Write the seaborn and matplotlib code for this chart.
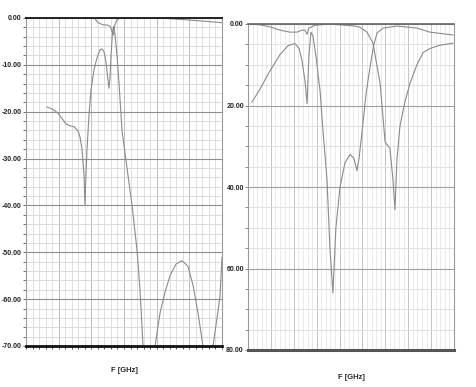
import matplotlib
matplotlib.use("Agg")
import matplotlib.pyplot as plt
from matplotlib.ticker import MultipleLocator, NullFormatter, FixedLocator
import seaborn as sns

# Left plot (dB, x in grid units)
left_top_x = [0, 10.5, 11.0, 11.9, 12.5, 12.9, 13.15, 13.4, 13.6, 13.9, 14.4, 20.5, 23.6, 26.6, 30]
left_top_y = [0, 0, -1.0, -1.5, -1.5, -1.8, -2.8, -3.6, -1.5, -0.4, 0, 0, -0.3, -0.6, -1.0]

left_low_x = [3.21, 3.98, 4.90, 5.66, 6.12, 6.73, 7.35, 7.96, 8.27, 8.57, 8.88, 9.03, 9.18, 9.34,
              9.64, 9.95, 10.41, 10.87, 11.33, 11.63, 11.94, 12.25, 12.55, 12.70, 12.86, 13.01,
              13.24, 13.39, 13.62, 13.93, 14.24, 14.69, 15.46, 16.23, 16.99, 17.45, 17.91, 18.83,
              19.75, 20.51, 21.28, 22.04, 22.96, 23.88, 24.80, 25.56, 26.33, 27.09, 27.86,
              28.62, 29.24, 29.69, 30.0]
left_low_y = [-19.0, -19.4, -20.3, -21.7, -22.6, -23.0, -23.2, -24.1, -25.4, -28.0, -33.5, -40.0,
              -33.5, -28.0, -20.7, -15.4, -11.0, -8.5, -6.8, -6.6, -7.2, -9.4, -13.2, -15.0, -12.8,
              -8.0, -3.0, -1.8, -3.5, -8.0, -14.0, -24.0, -32.0, -40.0, -49.5, -58.0, -70.0, -85.0,
              -70.0, -63.0, -58.5, -55.0, -52.5, -51.8, -53.0, -57.0, -63.0, -70.0, -85.0,
              -70.0, -64.0, -59.5, -51.0]
left_ticks = [0, -10, -20, -30, -40, -50, -60, -70]

# Right plot (loss in dB, axis runs downward)
right_refl_x = [0.17, 0.52, 0.96, 1.40, 1.75, 2.05, 2.23, 2.36, 2.49, 2.58, 2.66, 2.75, 2.84, 2.97,
                3.15, 3.28, 3.45, 3.58, 3.71, 3.84, 4.02, 4.24, 4.46, 4.63, 4.76, 4.85, 4.98, 5.16,
                5.33, 5.50, 5.64, 5.90, 6.51, 7.38, 7.95, 8.96]
right_refl_y = [19.2, 16.0, 11.5, 7.5, 5.3, 4.8, 6.0, 9.0, 14.0, 19.5, 8.0, 2.0, 3.0, 8.0,
                16.5, 26.5, 38.0, 55.0, 66.0, 50.0, 40.0, 34.0, 32.0, 33.0, 36.0, 33.0, 26.6, 17.0,
                10.6, 5.0, 2.2, 1.0, 0.5, 1.0, 2.0, 2.7]

right_trans_x = [0, 0.52, 0.96, 1.40, 1.83, 2.14, 2.36, 2.49, 2.58, 2.66, 2.93, 3.58, 4.67, 4.89,
                 5.20, 5.46, 5.77, 5.90, 5.99, 6.20, 6.33, 6.42, 6.51, 6.64, 6.86, 7.08, 7.38,
                 7.65, 7.95, 8.39, 8.96]
right_trans_y = [0, 0.2, 0.7, 1.5, 2.0, 2.0, 1.5, 1.5, 2.5, 1.0, 0.3, 0, 0.5, 0.8,
                 2.0, 4.7, 14.5, 23.0, 29.0, 30.5, 38.0, 45.6, 33.0, 25.0, 19.0, 14.5, 10.0,
                 7.0, 6.0, 5.2, 4.7]
right_ticks = [0, 20, 40, 60, 80]
right_labels = ["0.00", "20.00", "40.00", "60.00", "80.00"]

sns.set_style("white")
plt.rcParams['font.family'] = ['Liberation Sans', 'DejaVu Sans']

fig = plt.figure(figsize=(4.76, 3.87), dpi=100)
ax1 = fig.add_axes([26 / 476, 1 - 346 / 387, 196 / 476, 328 / 387])
ax2 = fig.add_axes([248 / 476, 1 - 350 / 387, 206 / 476, 326 / 387])

curve = dict(color='#8a8a8a', lw=0.8, estimator=None, sort=False, legend=False)

# Left panel
sns.lineplot(x=left_top_x, y=left_top_y, ax=ax1, **curve)
sns.lineplot(x=left_low_x, y=left_low_y, ax=ax1, **curve)
ax1.set_xlim(0, 30)
ax1.set_ylim(-70, 0)
ax1.xaxis.set_major_locator(MultipleLocator(5))
ax1.xaxis.set_minor_locator(MultipleLocator(1))
ax1.yaxis.set_major_locator(FixedLocator(left_ticks))
ax1.yaxis.set_minor_locator(MultipleLocator(2))
ax1.set_yticklabels([f"{t:.2f}" for t in left_ticks])
ax1.xaxis.set_major_formatter(NullFormatter())
ax1.xaxis.grid(True, which='minor', color='#dadada', lw=0.6)
ax1.xaxis.grid(True, which='major', color='#bcbcbc', lw=0.7)
ax1.yaxis.grid(True, which='minor', color='#d6d6d6', lw=0.6)
ax1.yaxis.grid(True, which='major', color='#8e8e8e', lw=0.8)
ax1.set_axisbelow(True)
for side in ['left', 'right']:
    ax1.spines[side].set_color('#999999')
    ax1.spines[side].set_linewidth(0.8)
ax1.spines['top'].set_color('#222222')
ax1.spines['top'].set_linewidth(1.4)
ax1.spines['bottom'].set_color('#111111')
ax1.spines['bottom'].set_linewidth(2.0)
ax1.tick_params(axis='x', which='both', bottom=True, length=2, width=0.6, color='#333333', pad=1)
ax1.tick_params(axis='y', which='both', left=True, length=2, width=0.6, color='#555555', pad=1,
                labelsize=5, labelcolor='#222222')
for lab in ax1.get_yticklabels():
    lab.set_fontweight('bold')
ax1.set_xlabel("F [GHz]", fontsize=5.5, fontweight='bold', labelpad=12)
ax1.set_ylabel("")

# Right panel
sns.lineplot(x=right_trans_x, y=right_trans_y, ax=ax2, **curve)
sns.lineplot(x=right_refl_x, y=right_refl_y, ax=ax2, **curve)
ax2.set_xlim(0, 9)
ax2.set_ylim(80, 0)
ax2.xaxis.set_major_locator(MultipleLocator(1))
ax2.xaxis.set_minor_locator(MultipleLocator(0.2))
ax2.yaxis.set_major_locator(FixedLocator(right_ticks))
ax2.yaxis.set_minor_locator(MultipleLocator(5))
ax2.set_yticklabels(right_labels)
ax2.xaxis.set_major_formatter(NullFormatter())
ax2.xaxis.grid(True, which='minor', color='#e6e6e6', lw=0.6)
ax2.xaxis.grid(True, which='major', color='#c4c4c4', lw=0.7)
ax2.yaxis.grid(True, which='minor', color='#dcdcdc', lw=0.6)
ax2.yaxis.grid(True, which='major', color='#a0a0a0', lw=0.8)
ax2.set_axisbelow(True)
for side in ['left', 'right']:
    ax2.spines[side].set_color('#999999')
    ax2.spines[side].set_linewidth(0.8)
ax2.spines['top'].set_color('#666666')
ax2.spines['top'].set_linewidth(1.2)
ax2.spines['bottom'].set_color('#555555')
ax2.spines['bottom'].set_linewidth(2.2)
ax2.tick_params(axis='x', which='both', bottom=False)
ax2.tick_params(axis='y', which='both', left=True, length=2, width=0.6, color='#777777', pad=1,
                labelsize=5, labelcolor='#222222')
for lab in ax2.get_yticklabels():
    lab.set_fontweight('bold')
ax2.set_xlabel("F [GHz]", fontsize=5.5, fontweight='bold', labelpad=10)
ax2.set_ylabel("")

fig.savefig("out.png", dpi=100)
